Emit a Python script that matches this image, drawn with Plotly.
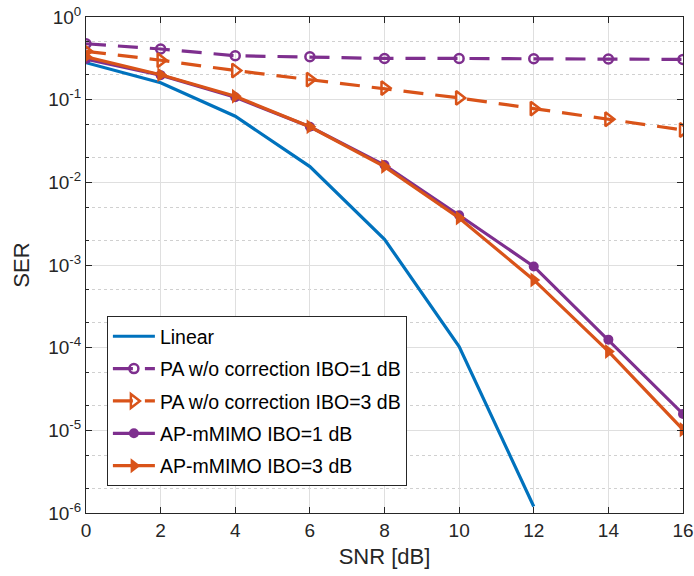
import plotly.graph_objects as go

snr = [0, 2, 4, 6, 8, 10, 12, 14, 16]
snr_linear = [0, 2, 4, 6, 8, 10, 12]
ser_linear = [0.28, 0.16, 0.063, 0.0155, 0.00205, 1.03e-4, 1.2e-6]
ser_pa_ibo1 = [0.475, 0.41, 0.34, 0.33, 0.315, 0.315, 0.313, 0.31, 0.307]
ser_pa_ibo3 = [0.385, 0.30, 0.225, 0.175, 0.138, 0.105, 0.078, 0.058, 0.043]
ser_ap_ibo1 = [0.31, 0.198, 0.107, 0.047, 0.0162, 0.0040, 0.00096, 1.25e-4, 1.58e-5]
ser_ap_ibo3 = [0.33, 0.20, 0.11, 0.047, 0.0155, 0.0037, 0.00066, 9.0e-5, 1.02e-5]

names = ["Linear", "PA w/o correction IBO=1 dB", "PA w/o correction IBO=3 dB",
         "AP-mMIMO IBO=1 dB", "AP-mMIMO IBO=3 dB"]

ytickvals = [1e-6, 1e-5, 1e-4, 1e-3, 1e-2, 1e-1, 1]
yticktext = ["10<sup>-6</sup>", "10<sup>-5</sup>", "10<sup>-4</sup>", "10<sup>-3</sup>",
             "10<sup>-2</sup>", "10<sup>-1</sup>", "10<sup>0</sup>"]
xtickvals = [0, 2, 4, 6, 8, 10, 12, 14, 16]

BLUE = "#0072BD"
ORANGE = "#D95319"
PURPLE = "#7E2F8E"
AX = "#262626"
FONT = "Liberation Sans, Arial, sans-serif"

fig = go.Figure()
fig.add_trace(go.Scatter(x=snr_linear, y=ser_linear, name=names[0], mode="lines",
                         line=dict(color=BLUE, width=3.2), legendgroup="a"))
fig.add_trace(go.Scatter(x=snr, y=ser_pa_ibo1, name=names[1], mode="lines+markers",
                         line=dict(color=PURPLE, width=3.2, dash="20px,12px"),
                         marker=dict(symbol="circle-open", size=9, color=PURPLE, line=dict(width=2.5)),
                         legendgroup="b"))
fig.add_trace(go.Scatter(x=snr, y=ser_pa_ibo3, name=names[2], mode="lines+markers",
                         line=dict(color=ORANGE, width=3.2, dash="20px,12px"),
                         marker=dict(symbol="triangle-right-open", size=12, color=ORANGE, line=dict(width=2.5)),
                         legendgroup="c"))
fig.add_trace(go.Scatter(x=snr, y=ser_ap_ibo1, name=names[3], mode="lines+markers",
                         line=dict(color=PURPLE, width=3.2),
                         marker=dict(symbol="circle", size=10, color=PURPLE),
                         legendgroup="d"))
fig.add_trace(go.Scatter(x=snr, y=ser_ap_ibo3, name=names[4], mode="lines+markers",
                         line=dict(color=ORANGE, width=3.2),
                         marker=dict(symbol="triangle-right", size=13, color=ORANGE),
                         legendgroup="e"))

axis_common = dict(
    showline=True, linecolor=AX, linewidth=1, mirror="allticks",
    ticks="inside", ticklen=6, tickcolor=AX, automargin=False,
    tickfont=dict(family=FONT, size=19, color=AX),
    showgrid=True, gridcolor="#DFDFDF", gridwidth=1, zeroline=False,
)

fig.update_xaxes(range=[0, 16], tickvals=xtickvals, title=dict(text="SNR [dB]", standoff=8,
                 font=dict(family=FONT, size=22, color=AX)),
                 **axis_common)
fig.update_yaxes(type="log", range=[-6, 0], tickvals=ytickvals, ticktext=yticktext,
                 title=dict(text="SER", standoff=12,
                            font=dict(family=FONT, size=22, color=AX)),
                 minor=dict(ticks="inside", ticklen=3, tickcolor=AX, showgrid=True,
                            gridcolor="#D0D0D0", griddash="dot", gridwidth=1),
                 **axis_common)

fig.update_layout(
    width=694, height=576,
    margin=dict(l=86, r=11, t=17, b=63),
    paper_bgcolor="white", plot_bgcolor="white",
    font=dict(family=FONT, color=AX),
    legend=dict(x=0.035, y=0.397, xanchor="left", yanchor="top",
                bgcolor="white", bordercolor=AX, borderwidth=1,
                font=dict(family=FONT, size=19.5, color="black"), tracegroupgap=4,
                traceorder="grouped", itemwidth=42),
    showlegend=True,
)

fig.write_html("out.html", config={"displayModeBar": False},
               post_script="document.body.style.margin='0';")
